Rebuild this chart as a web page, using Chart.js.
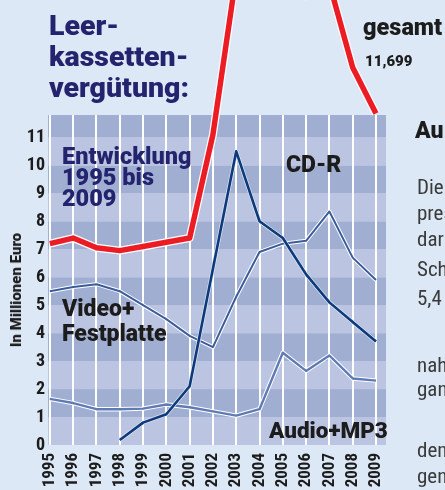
<!DOCTYPE html>
<html>
<head>
<meta charset="utf-8">
<script src="https://cdn.jsdelivr.net/npm/chart.js@4/dist/chart.umd.min.js"></script>
<style>
  html, body { margin: 0; padding: 0; background: #dce8f5; }
  #wrap { position: relative; width: 445px; height: 490px; overflow: hidden; font-family: Roboto, "Liberation Sans", sans-serif; }
  #wrap canvas { position: absolute; left: 0; top: 0; }
  .t { position: absolute; white-space: nowrap; font-weight: 900; }
  .navy { color: #24236e; }
  .dark { color: #1c1c1c; }
  .art { position: absolute; left: 417px; white-space: nowrap; font-family: "Roboto Condensed", Roboto, sans-serif; font-size: 21px; line-height: 21px; color: #3a3a3a; }
</style>
</head>
<body>
<div id="wrap">
  <canvas id="reportChart" width="445" height="490"></canvas>

  <div class="t navy" style="left:49px; top:10px; font-size:28.5px; line-height:31px;">Leer-<br>kassetten-<br>vergütung:</div>
  <div class="t navy" style="left:62px; top:146px; font-size:23.5px; line-height:21px;">Entwicklung<br>1995 bis<br>2009</div>
  <div class="t dark" style="left:286px; top:153px; font-size:23px; line-height:23px;">CD-R</div>
  <div class="t dark" style="left:62px; top:296px; font-size:23px; line-height:25px;">Video+<br>Festplatte</div>
  <div class="t dark" style="left:269px; top:418px; font-size:22.5px; line-height:24px;">Audio+MP3</div>
  <div class="t dark" style="left:363px; top:15px; font-size:23.5px; line-height:25px;">gesamt</div>
  <div class="t dark" style="left:365px; top:53px; font-size:15px; line-height:17px;">11,699</div>
  <div class="t dark" style="left:16px; top:290px; font-size:15px; line-height:16px; transform: translate(-50%, -50%) rotate(-90deg);">In Millionen Euro</div>

  <div class="t dark" style="left:415px; top:119px; font-size:23px; line-height:24px;">Au</div>
  <div class="art" style="top:177px;">Die</div>
  <div class="art" style="top:203px;">pres</div>
  <div class="art" style="top:229px;">dar</div>
  <div class="art" style="top:259px;">Sch</div>
  <div class="art" style="top:288px;">5,4</div>
  <div class="art" style="top:355px;">nah</div>
  <div class="art" style="top:379px;">gan</div>
  <div class="art" style="top:440px;">dem</div>
  <div class="art" style="top:466px;">gen</div>
</div>

<script>
// DATA
const years = [1995, 1996, 1997, 1998, 1999, 2000, 2001, 2002, 2003, 2004, 2005, 2006, 2007, 2008, 2009];
const gesamt = [7.2, 7.4, 7.05, 6.95, 7.1, 7.25, 7.4, 11.1, 16.8, 16.2, 17.9, 16.05, 16.5, 13.5, 11.85];
const cdr = [null, null, null, 0.18, 0.8, 1.1, 2.1, 6.3, 10.5, 8.0, 7.4, 6.1, 5.1, 4.4, 3.7];
const video = [5.5, 5.65, 5.75, 5.5, 5.0, 4.5, 3.9, 3.5, 5.3, 6.9, 7.2, 7.3, 8.35, 6.7, 5.9];
const audio = [1.65, 1.5, 1.28, 1.28, 1.3, 1.45, 1.35, 1.2, 1.05, 1.28, 3.3, 2.65, 3.2, 2.38, 2.3];

const lightBand = '#bbc4e0';
const darkBand = '#a0aed2';

// striped background of the plot
const bands = {
    id: 'bands',
    beforeDraw(chart) {
        const {ctx, chartArea: a, scales: {y}} = chart;
        ctx.save();
        for (let v = 0; v < 12; v++) {
            const top = Math.max(y.getPixelForValue(v + 1), a.top);
            const bottom = y.getPixelForValue(v);
            ctx.fillStyle = v % 2 ? darkBand : lightBand;
            ctx.fillRect(a.left, top, a.right - a.left, bottom - top);
        }
        ctx.restore();
    }
};

const line = (data, color, width, clip) => ({
    data: data,
    borderColor: color,
    borderWidth: width,
    pointRadius: 0,
    tension: 0,
    fill: false,
    borderJoinStyle: 'round',
    clip: clip ? false : undefined
});

const tickFont = {family: '"Roboto Condensed", Roboto, sans-serif', size: 18, weight: 'bold'};

var ctx = document.getElementById('reportChart').getContext('2d');

var chart = new Chart(ctx, {
    type: 'line',
    data: {
        labels: years,
        datasets: [
            line(gesamt, '#ec1c24', 5.5, true),
            line(gesamt, '#ffffff', 8, true),
            line(cdr, '#0c3a7a', 2.6),
            line(cdr, '#dfe6f3', 4),
            line(video, '#3b5c9c', 2),
            line(video, '#ffffff', 4),
            line(audio, '#5f7bb6', 2.4),
            line(audio, '#ffffff', 4.4)
        ]
    },
    options: {
        responsive: false,
        animation: false,
        devicePixelRatio: 1,
        layout: {padding: {top: 115, right: 59, left: 0, bottom: 0}},
        plugins: {legend: {display: false}, tooltip: {enabled: false}},
        scales: {
            x: {
                type: 'linear',
                min: 1994.92,
                max: 2009.43,
                afterFit: (s) => { s.height = 45; },
                border: {display: false},
                grid: {color: '#ffffff', lineWidth: 2, drawTicks: false},
                ticks: {
                    stepSize: 1,
                    includeBounds: false,
                    autoSkip: false,
                    minRotation: 90,
                    maxRotation: 90,
                    padding: 8,
                    color: '#1c1c1c',
                    font: Object.assign({}, tickFont, {size: 17}),
                    callback: (v) => String(v)
                }
            },
            y: {
                min: 0,
                max: 11.8,
                afterFit: (s) => { s.width = 48; },
                border: {display: false},
                grid: {display: false, drawTicks: false},
                ticks: {
                    stepSize: 1,
                    includeBounds: false,
                    padding: 3,
                    color: '#1c1c1c',
                    font: tickFont
                }
            }
        }
    },
    plugins: [bands]
});
</script>
</body>
</html>
